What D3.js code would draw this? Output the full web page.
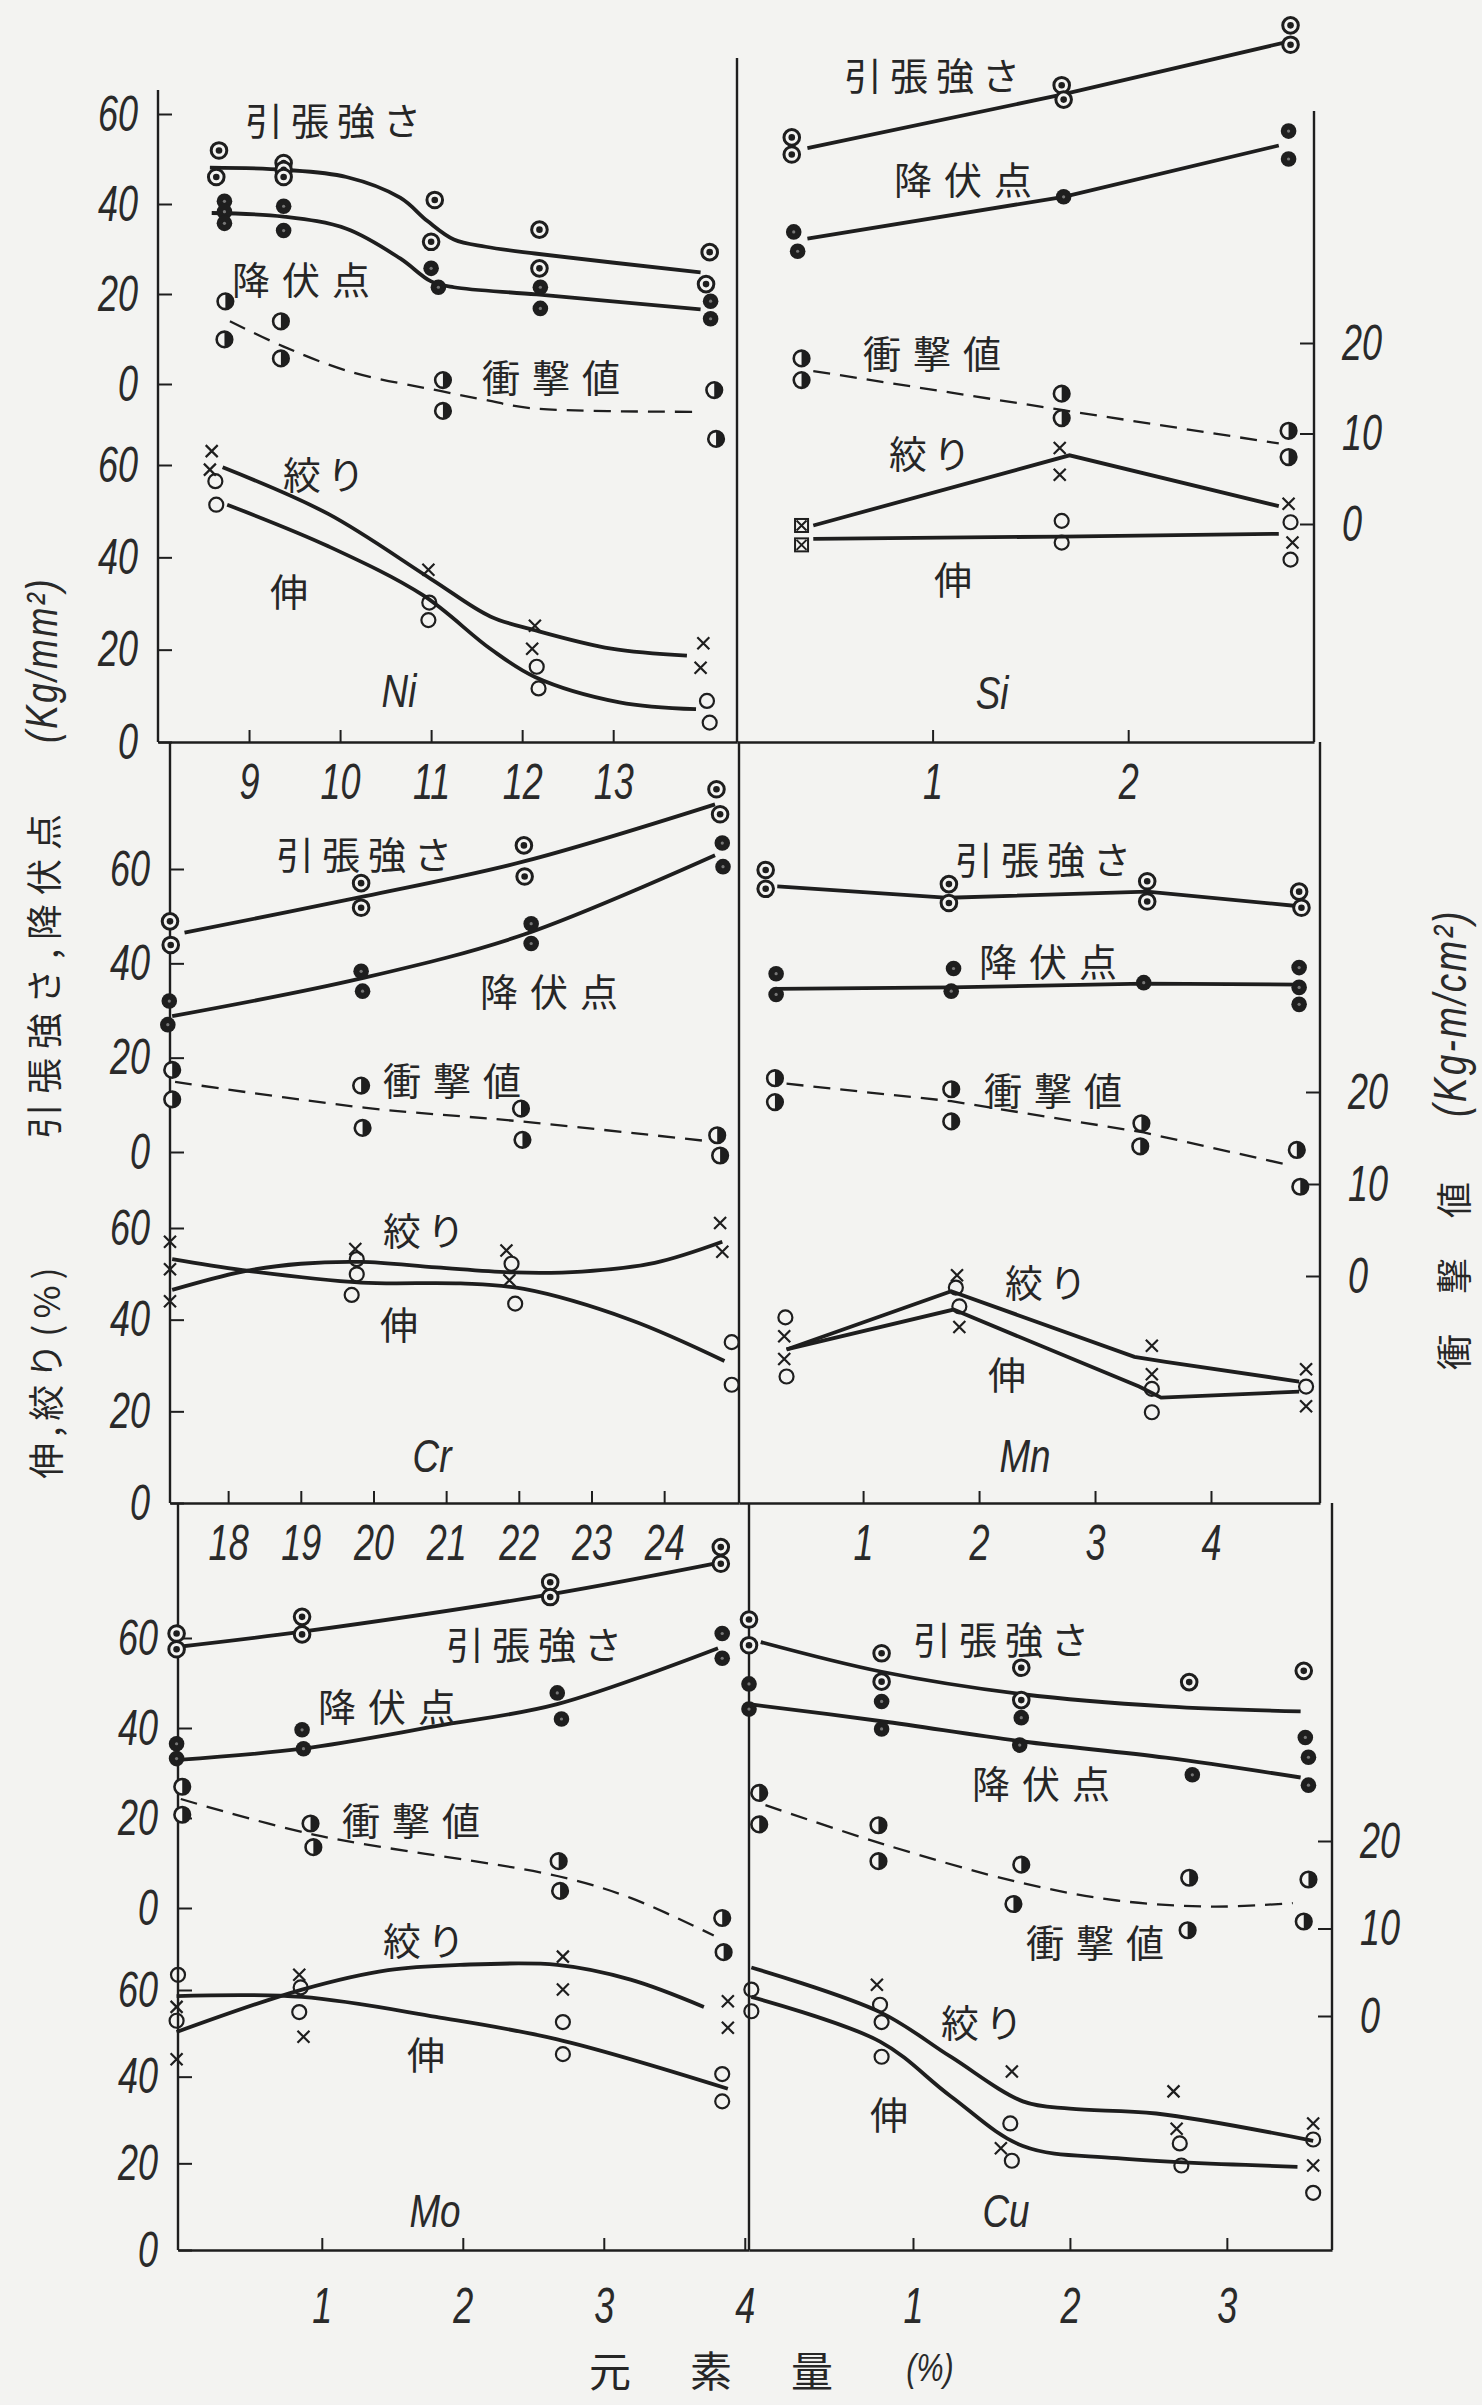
<!DOCTYPE html>
<html>
<head>
<meta charset="utf-8">
<script src="https://cdn.jsdelivr.net/npm/d3@7"></script>
<style>
  body { margin: 0; background: #f3f3f1; }
  svg { display: block; }
  .num { font-family: "Liberation Sans", Arial, sans-serif; font-style: italic; fill: #2a2a2a; }
  .jp { font-family: "Noto Sans CJK JP", sans-serif; fill: #262626; font-weight: 400; }
</style>
</head>
<body>
<svg id="chart" width="1482" height="2405"></svg>
<script>
// ---- tick values ----
const strengthTicks = [0, 20, 40, 60];
const elongTicks = [0, 20, 40, 60];
const impactTicks = [0, 10, 20];
const niTicks = [9, 10, 11, 12, 13];
const siTicks = [1, 2];
const crTicks = [18, 19, 20, 21, 22, 23, 24];
const mnTicks = [1, 2, 3, 4];
const moTicks = [1, 2, 3, 4];
const cuTicks = [1, 2, 3];

// ---- Ni ----  [element %, value]
const niTS = [[8.67,51.9],[8.64,46.0],[9.38,49.1],[9.38,47.6],[9.38,46.0],[11.04,40.9],[11.0,31.6],[12.19,34.3],[12.19,25.7],[14.06,29.3],[14.02,22.2]];
const niTSfit = [[8.57,48.1],[9.38,47.6],[10.07,46.0],[10.66,41.4],[10.96,36.2],[11.25,32.1],[11.6,30.5],[12.14,29.0],[13.96,24.8]];
const niYP = [[8.73,40.6],[8.73,38.3],[8.73,35.7],[9.38,39.5],[9.38,34.1],[11.0,25.7],[11.08,21.5],[12.2,21.5],[12.2,16.8],[14.07,18.4],[14.07,14.5]];
const niYPfit = [[8.59,38.0],[9.38,37.2],[10.07,34.5],[10.66,27.9],[11.0,22.8],[11.25,21.5],[12.16,19.9],[13.96,16.6]];
const niIV = [[8.74,24.6],[8.73,20.4],[9.35,22.4],[9.35,18.3],[11.13,15.9],[11.13,12.5],[14.11,14.8],[14.13,9.4]];
const niIVfit = [[8.79,22.4],[9.38,19.6],[10.12,16.8],[11.1,14.7],[11.6,13.7],[12.09,12.8],[13.91,12.4]];
const niRA = [[8.59,63.0],[8.57,59.0],[10.97,37.3],[12.14,25.2],[12.11,20.2],[13.99,21.4],[13.96,16.1]];
const niRAfit = [[8.71,59.5],[9.87,49.4],[11.0,35.3],[11.65,27.2],[12.14,24.2],[12.98,20.2],[13.81,18.7]];
const niEL = [[8.63,56.5],[8.64,51.4],[10.98,30.2],[10.97,26.4],[12.16,16.3],[12.18,11.6],[14.03,8.9],[14.06,4.2]];
const niELfit = [[8.76,51.4],[9.87,42.4],[10.91,31.8],[11.65,20.2],[12.14,14.1],[13.07,8.6],[13.91,7.1]];

// ---- Si ----
const siTS = [[0.28,54.8],[0.28,51.0],[1.66,66.4],[1.67,63.2],[2.83,79.7],[2.83,75.4]];
const siTSfit = [[0.36,52.4],[1.66,64.3],[2.82,76.1]];
const siYP = [[0.29,33.8],[0.31,29.5],[1.67,41.6],[2.82,56.2],[2.82,50.0]];
const siYPfit = [[0.36,32.3],[1.67,41.6],[2.77,53.0]];
const siIV = [[0.33,18.3],[0.33,15.9],[1.66,14.4],[1.66,11.7],[2.82,10.3],[2.82,7.4]];
const siIVfit = [[0.39,16.9],[1.66,12.6],[2.77,8.9]];
const siRA = [[1.65,63.7],[1.65,57.9],[2.82,51.6],[2.84,43.2]];
const siRAfit = [[0.39,46.9],[1.70,62.1],[2.77,51.1]];
const siEL = [[1.66,47.9],[1.66,43.2],[2.83,47.6],[2.83,39.5]];
const siELfit = [[0.39,44.0],[1.66,44.5],[2.77,45.1]];
const siBoth = [[0.33,46.9],[0.33,42.7]];

// ---- Cr ----
const crTS = [[17.2,48.9],[17.21,43.9],[19.83,57.0],[19.83,51.8],[22.07,65.0],[22.08,58.4],[24.72,76.9],[24.77,71.6]];
const crTSfit = [[17.4,46.5],[19.87,54.2],[22.07,61.6],[24.7,73.7]];
const crYP = [[17.19,32.0],[17.17,27.0],[19.83,38.3],[19.85,34.1],[22.17,48.4],[22.17,44.2],[24.8,65.5],[24.81,60.5]];
const crYPfit = [[17.23,28.8],[19.83,36.8],[22.07,46.1],[24.7,62.9]];
const crIV = [[17.23,22.4],[17.23,19.2],[19.83,20.7],[19.85,16.1],[22.03,18.2],[22.05,14.8],[24.73,15.3],[24.77,13.1]];
const crIVfit = [[17.27,21.1],[19.87,18.3],[22.03,16.8],[24.67,14.6]];
const crRA = [[17.2,57.0],[17.2,51.0],[17.2,44.0],[19.75,55.4],[21.83,55.1],[21.87,48.6],[24.77,61.1],[24.8,54.8]];
const crRAfit = [[17.23,46.5],[18.2,50.5],[19.0,52.2],[19.83,52.6],[20.87,51.4],[21.93,50.3],[22.87,50.5],[23.87,52.4],[24.8,57.0]];
const crEL = [[19.77,53.2],[19.77,49.9],[19.7,45.4],[21.9,52.2],[21.95,43.5],[24.93,35.1],[24.93,25.8]];
const crELfit = [[17.23,53.2],[18.2,50.8],[19.83,48.1],[21.2,47.9],[22.07,46.7],[23.53,40.0],[24.83,31.0]];

// ---- Mn ----
const mnTS = [[0.16,59.8],[0.16,55.8],[1.74,56.8],[1.74,52.8],[3.45,57.4],[3.45,53.1],[4.76,55.2],[4.78,51.8]];
const mnTSfit = [[0.26,56.3],[1.74,53.9],[3.45,55.2],[4.76,52.1]];
const mnYP = [[0.25,37.8],[0.25,33.4],[1.78,38.9],[1.76,34.1],[3.42,35.9],[4.76,39.1],[4.76,34.9],[4.76,31.3]];
const mnYPfit = [[0.25,34.6],[1.76,34.9],[3.42,35.7],[4.76,35.5]];
const mnIV = [[0.24,21.5],[0.24,18.9],[1.76,20.3],[1.76,16.8],[3.40,16.6],[3.39,14.1],[4.74,13.7],[4.77,9.7]];
const mnIVfit = [[0.34,20.9],[1.76,19.0],[3.42,15.6],[4.66,12.1]];
const mnRA = [[0.32,36.4],[0.32,31.4],[1.81,49.7],[1.83,38.4],[3.49,34.3],[3.49,28.1],[4.82,29.2],[4.82,21.1]];
const mnRAfit = [[0.34,33.5],[1.76,46.2],[3.34,31.9],[3.61,30.8],[4.76,26.5]];
const mnEL = [[0.33,40.5],[0.34,27.6],[1.80,47.0],[1.83,42.9],[3.49,24.9],[3.49,19.8],[4.82,25.4]];
const mnELfit = [[0.34,33.5],[1.78,42.2],[3.38,25.4],[3.57,23.0],[4.76,24.3]];

// ---- Mo ----
const moTS = [[-0.03,61.0],[-0.03,57.5],[0.86,64.7],[0.86,60.8],[2.62,72.4],[2.62,69.1],[3.83,80.2],[3.83,76.5]];
const moTSfit = [[-0.03,58.0],[0.86,61.4],[2.62,69.7],[3.83,76.8]];
const moYP = [[-0.03,36.5],[-0.03,33.2],[0.86,39.6],[0.87,35.4],[2.67,47.8],[2.70,42.0],[3.84,61.0],[3.84,55.5]];
const moYPfit = [[-0.02,32.9],[0.86,35.4],[1.81,40.4],[2.67,45.3],[3.81,57.7]];
const moIV = [[0.01,26.2],[0.01,23.0],[0.92,22.0],[0.94,19.3],[2.68,17.7],[2.69,14.3],[3.84,11.2],[3.85,7.3]];
const moIVfit = [[0.0,24.8],[0.95,20.7],[2.67,16.0],[3.19,13.5],[3.78,9.2]];
const moRA = [[-0.03,56.1],[-0.03,44.0],[0.84,63.5],[0.87,49.2],[2.71,67.7],[2.71,60.1],[3.88,57.4],[3.88,51.3]];
const moRAfit = [[-0.03,50.3],[0.86,60.1],[1.47,64.6],[1.98,65.8],[2.67,65.8],[3.19,62.4],[3.71,56.1]];
const moEL = [[-0.02,63.5],[-0.03,52.9],[0.85,60.6],[0.84,54.9],[2.71,52.6],[2.71,45.2],[3.84,40.6],[3.84,34.3]];
const moELfit = [[-0.03,58.6],[0.86,58.4],[1.81,53.8],[2.67,48.6],[3.88,37.2]];

// ---- Cu ----
const cuTS = [[-0.045,64.1],[-0.045,58.4],[0.8,56.6],[0.8,50.3],[1.69,53.4],[1.69,46.2],[2.76,50.2],[3.49,52.7]];
const cuTSfit = [[0.03,59.1],[0.8,52.5],[1.70,47.5],[2.61,44.8],[3.47,43.7]];
const cuYP = [[-0.045,49.8],[-0.045,44.2],[0.8,45.9],[0.8,39.8],[1.69,42.3],[1.68,36.2],[2.78,29.6],[3.5,37.9],[3.52,33.5],[3.52,27.3]];
const cuYPfit = [[-0.045,45.3],[0.8,41.5],[1.70,37.0],[2.61,33.4],[3.47,29.0]];
const cuIV = [[0.02,25.5],[0.02,21.9],[0.78,21.8],[0.78,17.7],[1.69,17.3],[1.64,12.8],[2.76,15.8],[2.75,9.8],[3.52,15.6],[3.49,10.8]];
const cuIVfit = [[0.06,24.1],[0.8,19.7],[1.67,15.3],[2.3,13.2],[2.91,12.5],[3.42,12.9]];
const cuRA = [[0.77,61.2],[1.63,41.2],[1.56,23.5],[2.66,36.6],[2.68,28.0],[3.55,29.2],[3.55,19.5]];
const cuRAfit = [[-0.03,65.2],[0.79,54.9],[1.24,44.6],[1.70,34.3],[2.0,32.6],[2.55,31.5],[3.55,25.2]];
const cuEL = [[-0.03,60.1],[-0.03,55.1],[0.79,56.6],[0.8,52.6],[0.8,44.6],[1.62,29.2],[1.63,20.6],[2.7,24.6],[2.71,19.5],[3.55,25.5],[3.55,13.2]];
const cuELfit = [[-0.03,58.4],[0.79,48.1],[1.24,35.5],[1.70,24.0],[2.3,21.2],[3.45,19.2]];

// ---- layout (pixel geometry of the three rows) ----
const rows = [
  { left: 158, mid: 737, right: 1314, leftTop: 90, midTop: 58, rightTop: 111, bottom: 742,
    s0: 384, s60: 114, e0: 742, e60: 465, i0: 524, i20: 343, pad: 22 },
  { left: 170, mid: 739, right: 1320, leftTop: 742, midTop: 742, rightTop: 742, bottom: 1503,
    s0: 1152, s60: 869, e0: 1503, e60: 1228, i0: 1276, i20: 1092, pad: 22 },
  { left: 178, mid: 749, right: 1332, leftTop: 1503, midTop: 1503, rightTop: 1503, bottom: 2250,
    s0: 1908, s60: 1638, e0: 2250, e60: 1990, i0: 2016, i20: 1841, pad: 38 }
];

const panels = [
  { name: "Ni", row: 0, side: 0, dom: [8, 14.36], ticks: niTicks, smooth: true,
    ts: niTS, tsFit: niTSfit, yp: niYP, ypFit: niYPfit, iv: niIV, ivFit: niIVfit, ra: niRA, raFit: niRAfit, el: niEL, elFit: niELfit,
    lab: { ts: [245, 118], yp: [232, 277], iv: [482, 375], ra: [283, 472], el: [270, 589], el0: [399, 691] } },
  { name: "Si", row: 0, side: 1, dom: [0, 2.95], ticks: siTicks, smooth: false, both: siBoth,
    ts: siTS, tsFit: siTSfit, yp: siYP, ypFit: siYPfit, iv: siIV, ivFit: siIVfit, ra: siRA, raFit: siRAfit, el: siEL, elFit: siELfit,
    lab: { ts: [844, 73], yp: [894, 177], iv: [863, 351], ra: [889, 451], el: [934, 577], el0: [992, 693] } },
  { name: "Cr", row: 1, side: 0, dom: [17.2, 25.03], ticks: crTicks, smooth: true,
    ts: crTS, tsFit: crTSfit, yp: crYP, ypFit: crYPfit, iv: crIV, ivFit: crIVfit, ra: crRA, raFit: crRAfit, el: crEL, elFit: crELfit,
    lab: { ts: [276, 852], yp: [480, 989], iv: [383, 1078], ra: [383, 1228], el: [380, 1322], el0: [432, 1456] } },
  { name: "Mn", row: 1, side: 1, dom: [-0.07, 4.94], ticks: mnTicks, smooth: false,
    ts: mnTS, tsFit: mnTSfit, yp: mnYP, ypFit: mnYPfit, iv: mnIV, ivFit: mnIVfit, ra: mnRA, raFit: mnRAfit, el: mnEL, elFit: mnELfit,
    lab: { ts: [955, 857], yp: [979, 959], iv: [984, 1088], ra: [1005, 1280], el: [988, 1372], el0: [1025, 1456] } },
  { name: "Mo", row: 2, side: 0, dom: [-0.02, 4.03], ticks: moTicks, smooth: true,
    ts: moTS, tsFit: moTSfit, yp: moYP, ypFit: moYPfit, iv: moIV, ivFit: moIVfit, ra: moRA, raFit: moRAfit, el: moEL, elFit: moELfit,
    lab: { ts: [446, 1642], yp: [318, 1704], iv: [342, 1818], ra: [383, 1938], el: [407, 2052], el0: [435, 2211] } },
  { name: "Cu", row: 2, side: 1, dom: [-0.045, 3.67], ticks: cuTicks, smooth: true,
    ts: cuTS, tsFit: cuTSfit, yp: cuYP, ypFit: cuYPfit, iv: cuIV, ivFit: cuIVfit, ra: cuRA, raFit: cuRAfit, el: cuEL, elFit: cuELfit,
    lab: { ts: [913, 1637], yp: [972, 1781], iv: [1026, 1940], ra: [941, 2020], el: [870, 2112], el0: [1006, 2211] } }
];

const ink = "#1e1e1e";
const paper = "#f3f3f1";
const squeeze = 0.72;   // tall narrow numerals of the original
const svg = d3.select("#chart");

// numerals: italic, squeezed horizontally around their own anchor
function numStyle(sel, size) {
  sel.attr("class", "num").attr("font-size", size).attr("font-family", null).attr("fill", null)
    .each(function () {
      const t = d3.select(this);
      const x = +t.attr("x") || 0;
      t.attr("x", x / squeeze).attr("transform", `scale(${squeeze},1)`);
    });
}

// frame lines and the left / right value axes of each row
rows.forEach(r => {
  [[r.left, r.leftTop], [r.mid, r.midTop], [r.right, r.rightTop]].forEach(([lx, top]) => {
    svg.append("line").attr("x1", lx).attr("x2", lx).attr("y1", top).attr("y2", r.bottom)
      .attr("stroke", ink).attr("stroke-width", 2.4);
  });

  const yS = d3.scaleLinear().domain([0, 60]).range([r.s0, r.s60]);
  const yE = d3.scaleLinear().domain([0, 60]).range([r.e0, r.e60]);
  const yI = d3.scaleLinear().domain([0, 20]).range([r.i0, r.i20]);

  [[yS, strengthTicks], [yE, elongTicks]].forEach(([sc, tv]) => {
    const g = svg.append("g").attr("transform", `translate(${r.left},0)`)
      .call(d3.axisLeft(sc).tickValues(tv).tickSizeInner(-14).tickSizeOuter(0).tickPadding(20));
    g.select(".domain").remove();
    g.selectAll("line").attr("stroke", ink).attr("stroke-width", 2);
    numStyle(g.selectAll("text"), 50);
  });

  const gr = svg.append("g").attr("transform", `translate(${r.right},0)`)
    .call(d3.axisRight(yI).tickValues(impactTicks).tickSizeInner(-14).tickSizeOuter(0).tickPadding(28));
  gr.select(".domain").remove();
  gr.selectAll("line").attr("stroke", ink).attr("stroke-width", 2);
  numStyle(gr.selectAll("text"), 50);
});

function marker(g, kind) {
  if (kind === "ts") {
    g.append("circle").attr("r", 7.8).attr("fill", paper).attr("stroke", ink).attr("stroke-width", 3);
    g.append("circle").attr("r", 3.3).attr("fill", ink);
  } else if (kind === "yp") {
    g.append("circle").attr("r", 7.8).attr("fill", ink);
    g.append("circle").attr("r", 1.6).attr("fill", "#777");
  } else if (kind === "iv") {
    g.append("circle").attr("r", 7.8).attr("fill", paper).attr("stroke", ink).attr("stroke-width", 2.6);
    g.append("path").attr("d", "M0,-7.8A7.8,7.8 0 0 1 0,7.8Z").attr("fill", ink);
  } else if (kind === "el") {
    g.append("circle").attr("r", 7).attr("fill", "none").attr("stroke", ink).attr("stroke-width", 2.2);
  } else if (kind === "ra") {
    g.append("path").attr("d", "M-6,-6L6,6M-6,6L6,-6").attr("stroke", ink).attr("stroke-width", 2.2).attr("fill", "none");
  } else if (kind === "both") {
    g.append("rect").attr("x", -6.5).attr("y", -6.5).attr("width", 13).attr("height", 13)
      .attr("fill", paper).attr("stroke", ink).attr("stroke-width", 2);
    g.append("path").attr("d", "M-5,-5L5,5M-5,5L5,-5").attr("stroke", ink).attr("stroke-width", 2);
  }
}

panels.forEach(p => {
  const r = rows[p.row];
  const x = d3.scaleLinear().domain(p.dom).range(p.side === 0 ? [r.left, r.mid] : [r.mid, r.right]);
  const yS = d3.scaleLinear().domain([0, 60]).range([r.s0, r.s60]);
  const yE = d3.scaleLinear().domain([0, 60]).range([r.e0, r.e60]);
  const yI = d3.scaleLinear().domain([0, 20]).range([r.i0, r.i20]);

  // bottom axis: ticks point up, labels sit in the panel below
  const ax = svg.append("g").attr("transform", `translate(0,${r.bottom})`)
    .call(d3.axisBottom(x).tickValues(p.ticks).tickSizeInner(-12).tickSizeOuter(0).tickPadding(r.pad).tickFormat(d3.format("d")));
  ax.select(".domain").attr("stroke", ink).attr("stroke-width", 2.4);
  ax.selectAll("line").attr("stroke", ink).attr("stroke-width", 2);
  numStyle(ax.selectAll("text"), 50);

  const curve = p.smooth ? d3.curveCatmullRom.alpha(0.5) : d3.curveLinear;
  const fits = [
    { d: p.tsFit, y: yS, dash: null, w: 3.8 },
    { d: p.ypFit, y: yS, dash: null, w: 3.8 },
    { d: p.ivFit, y: yI, dash: "17 10", w: 2.3 },
    { d: p.raFit, y: yE, dash: null, w: 3.8 },
    { d: p.elFit, y: yE, dash: null, w: 3.8 }
  ];
  fits.forEach(f => {
    const line = d3.line().x(d => x(d[0])).y(d => f.y(d[1])).curve(curve);
    svg.append("path").datum(f.d).attr("d", line).attr("fill", "none")
      .attr("stroke", ink).attr("stroke-width", f.w).attr("stroke-dasharray", f.dash);
  });

  const sets = [
    { d: p.ts, y: yS, k: "ts" }, { d: p.yp, y: yS, k: "yp" }, { d: p.iv, y: yI, k: "iv" },
    { d: p.el, y: yE, k: "el" }, { d: p.ra, y: yE, k: "ra" }
  ];
  if (p.both) sets.push({ d: p.both, y: yE, k: "both" });
  sets.forEach(s => {
    svg.append("g").selectAll("g").data(s.d).join("g")
      .attr("transform", d => `translate(${x(d[0])},${s.y(d[1])})`)
      .each(function () { marker(d3.select(this), s.k); });
  });

  // series names inside the panel
  const names = [["ts", "引張強さ", 8], ["yp", "降伏点", 12], ["iv", "衝撃値", 12], ["ra", "絞り", 6], ["el", "伸", 0]];
  names.forEach(([k, t, ls]) => {
    svg.append("text").attr("class", "jp").attr("x", p.lab[k][0]).attr("y", p.lab[k][1])
      .attr("dominant-baseline", "central").attr("font-size", 38).attr("letter-spacing", ls).text(t);
  });
  svg.append("text").attr("class", "num").attr("x", p.lab.el0[0] / 0.8).attr("y", p.lab.el0[1])
    .attr("transform", "scale(0.8,1)")
    .attr("text-anchor", "middle").attr("dominant-baseline", "central").attr("font-size", 46).text(p.name);
});

// axis titles
function vtext(x, y, t, cls, size, ls, sx) {
  svg.append("text").attr("class", cls)
    .attr("transform", `translate(${x},${y}) rotate(-90) scale(${sx || 1},1)`)
    .attr("text-anchor", "middle").attr("dominant-baseline", "central")
    .attr("font-size", size).attr("letter-spacing", ls).text(t);
}
vtext(42, 972, "引張強さ,降伏点", "jp", 36, 9);
vtext(42, 660, "(Kg/mm²)", "num", 44, 3, 0.8);
vtext(44, 1370, "伸,絞り(%)", "jp", 36, 6);
vtext(1452, 1256, "衝撃値", "jp", 36, 40);
vtext(1450, 1013, "(Kg-m/cm²)", "num", 46, 3, 0.8);

// x title: widely spaced characters, one text
svg.append("text").attr("class", "jp").attr("x", 589).attr("y", 2368)
  .attr("dominant-baseline", "central").attr("font-size", 42).attr("letter-spacing", 59).text("元素量");
svg.append("text").attr("class", "num").attr("x", 930 / 0.8).attr("y", 2368).attr("transform", "scale(0.8,1)")
  .attr("text-anchor", "middle").attr("dominant-baseline", "central").attr("font-size", 38).text("(%)");
</script>
</body>
</html>
